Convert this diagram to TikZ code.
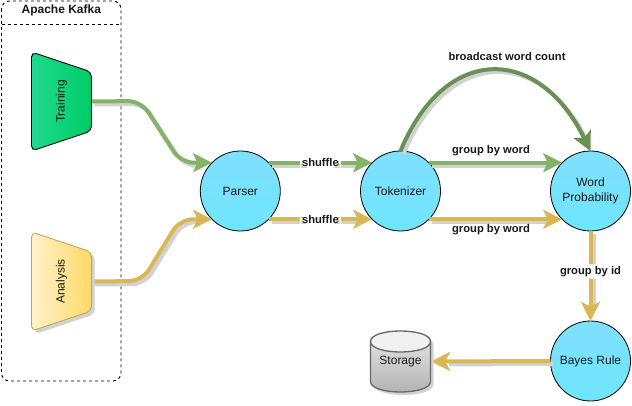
\documentclass[tikz,border=0pt]{standalone}
\usepackage{fontspec}
\setmainfont{Liberation Sans}
\usetikzlibrary{arrows.meta}
\definecolor{gline}{HTML}{82B366}
\definecolor{yline}{HTML}{D9B757}
\definecolor{dgline}{HTML}{6A9153}
\definecolor{shgray}{HTML}{D2D2D2}
\tikzset{
  x=1pt,y=-1pt,
  proc/.style={circle,draw=black,line width=0.8pt,minimum size=80pt,inner sep=0pt,outer sep=0pt,
    top color={rgb,255:red,128;green,223;blue,255},bottom color={rgb,255:red,110;green,230;blue,250},
    font=\fontsize{12}{14}\selectfont,align=center,text=black!90},
  flow/.style={line width=4pt,-{Stealth[length=19pt,width=19pt,inset=4.5pt]},rounded corners=13pt},
  flowshadow/.style={line width=4pt,draw=shgray,shorten >=15pt,rounded corners=13pt},
  lab/.style={font=\fontsize{11.2}{13}\bfseries\selectfont,text=black!90,inner sep=1.5pt},
  labfill/.style={lab,fill=white,inner sep=2pt},
  txt/.style={font=\fontsize{12}{14}\selectfont,text=black!90,inner sep=0pt,outer sep=0pt},
  sidebox/.style={txt,rotate=90,minimum width=99pt,minimum height=60pt},
  kafka/.style={draw=black,line width=0.9pt,dash pattern=on 3pt off 3pt},
}
\begin{document}
\begin{tikzpicture}
\useasboundingbox[fill=white] (0,0) rectangle (632,406);
% Kafka frame
\draw[kafka,rounded corners=8pt] (1.5,1) rectangle (121,381);
\draw[kafka] (1.5,24.5) -- (121,24.5);
\node[txt,font=\fontsize{12}{14}\bfseries\selectfont] (kafkatitle) at (61.3,10.5) {Apache Kafka};
% anchors
\node[proc] (parser) at (240.3,191) {Parser};
\node[proc] (tok) at (400.5,191) {Tokenizer};
\node[proc] (wp) at (590.5,191) {Word\\[1pt]Probability};
\node[proc] (bayes) at (590.5,361) {Bayes Rule};
\node[sidebox] (training) at (61.5,101.5) {};
\node[sidebox] (analysis) at (61.5,281.5) {};
\node[txt,minimum width=61pt,minimum height=61pt] (storage) at (400.5,361.5) {};
% connector shadows
\draw[flowshadow] ([shift={(3,3)}]training.south) -- (144,104) -- (184,166) -- ([shift={(3,3)}]parser.135);
\draw[flowshadow] ([shift={(3,3)}]analysis.south) -- (145,284) -- (183,222) -- ([shift={(3,3)}]parser.225);
\draw[flowshadow] ([shift={(3,3)}]parser.45) -- ([shift={(3,3)}]tok.135);
\draw[flowshadow] ([shift={(3,3)}]parser.-45) -- ([shift={(3,3)}]tok.225);
\draw[flowshadow] ([shift={(3,3)}]tok.45) -- ([shift={(3,3)}]wp.135);
\draw[flowshadow] ([shift={(3,3)}]tok.-45) -- ([shift={(3,3)}]wp.225);
\draw[flowshadow] ([shift={(3,3)}]wp.south) -- ([shift={(3,3)}]bayes.north);
\draw[flowshadow] ([shift={(3,3)}]bayes.west) -- ([shift={(3,3)}]storage.east);
\draw[flowshadow] ([shift={(3,3)}]tok.90) .. controls (448,47) and (541,47) .. ([shift={(3,3)}]wp.90);
% connectors
\draw[flow,gline] (training.south) -- (141,101) -- (181,162.7) -- (parser.135);
\draw[flow,yline] (analysis.south) -- (142,281) -- (180,219.3) -- (parser.225);
\draw[flow,gline] (parser.45) -- node[labfill] (sh1) {shuffle} (tok.135);
\draw[flow,yline] (parser.-45) -- node[labfill] (sh2) {shuffle} (tok.225);
\draw[flow,gline] (tok.45) -- (wp.135);
\draw[flow,yline] (tok.-45) -- (wp.225);
\draw[flow,yline] (wp.south) -- node[labfill,pos=0.45] (gid) {group by id} (bayes.north);
\draw[flow,yline] (bayes.west) -- (storage.east);
\draw[flow,dgline] (tok.90) .. controls (445,44) and (538,44) .. (wp.90);
% labels
\node[lab] (g1) at (491,151) {group by word};
\node[lab] (g2) at (491,230) {group by word};
\node[lab] (bc) at (507,56) {broadcast word count};
% trapezoids
\draw[shgray,fill=shgray,rounded corners=5pt,xshift=3pt,yshift=-3pt] (31.5,232) -- (91.5,252) -- (91.5,311) -- (31.5,331) -- cycle;
\shade[left color={rgb,255:red,31;green,218;blue,143},right color={rgb,255:red,0;green,204;blue,102},rounded corners=5pt] (31.5,52) -- (91.5,72) -- (91.5,131) -- (31.5,151) -- cycle;
\draw[black,line width=0.9pt,rounded corners=5pt] (31.5,52) -- (91.5,72) -- (91.5,131) -- (31.5,151) -- cycle;
\shade[left color={rgb,255:red,255;green,242;blue,204},right color={rgb,255:red,255;green,217;blue,102},rounded corners=5pt] (31.5,232) -- (91.5,252) -- (91.5,311) -- (31.5,331) -- cycle;
\draw[yline!90!black,line width=0.8pt,rounded corners=5pt] (31.5,232) -- (91.5,252) -- (91.5,311) -- (31.5,331) -- cycle;
\node[txt,rotate=90] at (training.center) {Training};
\node[txt,rotate=90] at (analysis.center) {Analysis};
% storage cylinder
\fill[shgray,xshift=3pt,yshift=-3pt] (370.5,341.5) .. controls (370.5,327.5) and (430.5,327.5) .. (430.5,341.5) -- (430.5,381.5) .. controls (430.5,395.5) and (370.5,395.5) .. (370.5,381.5) -- cycle;
\shade[top color={rgb,255:red,235;green,235;blue,235},bottom color={rgb,255:red,176;green,176;blue,176}] (370.5,341.5) .. controls (370.5,327.5) and (430.5,327.5) .. (430.5,341.5) -- (430.5,381.5) .. controls (430.5,395.5) and (370.5,395.5) .. (370.5,381.5) -- cycle;
\fill[white!94!black] (370.5,341.5) .. controls (370.5,327.5) and (430.5,327.5) .. (430.5,341.5) .. controls (430.5,355.5) and (370.5,355.5) .. (370.5,341.5) -- cycle;
\draw[black!60,line width=1.3pt] (370.5,341.5) .. controls (370.5,327.5) and (430.5,327.5) .. (430.5,341.5) -- (430.5,381.5) .. controls (430.5,395.5) and (370.5,395.5) .. (370.5,381.5) -- cycle;
\draw[black!60,line width=1.3pt] (370.5,341.5) .. controls (370.5,355.5) and (430.5,355.5) .. (430.5,341.5);
\node[txt] at (storage.center) {Storage};
\end{tikzpicture}
\end{document}
